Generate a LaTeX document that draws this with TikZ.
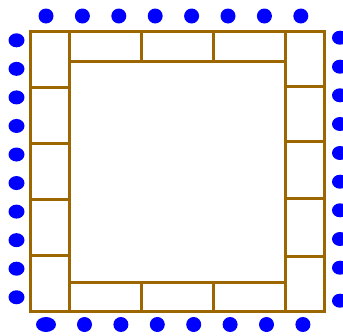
\documentclass[tikz,border=0pt]{standalone}
\usetikzlibrary{shapes.geometric}
\definecolor{PadBlue}{HTML}{0000FF}
\definecolor{FrameBrown}{HTML}{9C6600}

\begin{document}
\begin{tikzpicture}[x=1pt,y=-1pt,
    cell/.style={rectangle,draw=FrameBrown,line width=3pt,inner sep=0pt},
    pad/.style={ellipse,fill=PadBlue,inner sep=0pt,minimum width=15pt,minimum height=15pt}]
  \useasboundingbox (0,0) rectangle (343,335);
  % frame cells
  \foreach \i in {0,...,4}
    \node[cell,minimum width=39pt,minimum height=56pt] (left\i) at (49.5,59+56*\i) {};
  \foreach \i/\y/\h in {0/58.5/55,1/113.5/55,2/169.5/57,3/227/58,4/283.75/55.5}
    \node[cell,minimum width=39pt,minimum height=\h pt] (right\i) at (304.5,\y) {};
  \foreach \i in {0,1,2} {
    \node[cell,minimum width=72pt,minimum height=30pt] (top\i) at (105+72*\i,46) {};
    \node[cell,minimum width=72pt,minimum height=29pt] (bot\i) at (105+72*\i,296.5) {};
  }
  % pads
  \foreach \i in {0,...,7}
    \node[pad] (ptop\i) at (46+36.4*\i,16) {};
  \node[pad,minimum width=20pt] (pbot0) at (46,324.5) {};
  \foreach \i in {1,...,7}
    \node[pad] (pbot\i) at (84.5+36.4*\i-36.4,324.5) {};
  \foreach \i in {0,...,9}
    \node[pad,minimum width=16pt,minimum height=14pt] (pleft\i) at (16.5,40.3+28.55*\i) {};
  \foreach \i/\y in {0/37.7,1/66.7,2/95.3,3/124,4/153,5/181.7,6/210.3,7/239,8/267.7,9/300.7}
    \node[pad,minimum width=16pt,minimum height=14pt] (pright\i) at (340,\y) {};
\end{tikzpicture}
\end{document}
